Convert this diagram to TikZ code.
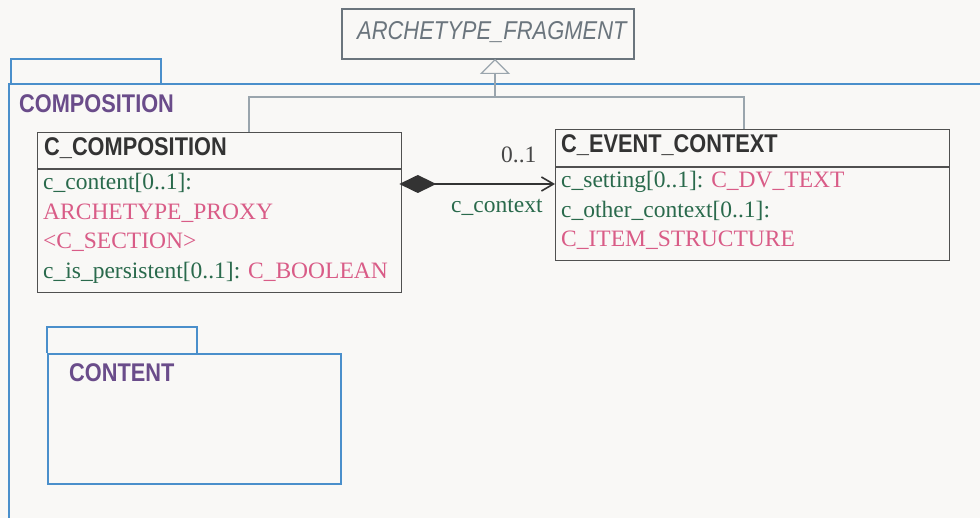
\documentclass[tikz,border=0pt]{standalone}
\usepackage{fontspec}
\setmainfont{Liberation Serif}
\newfontfamily\condfont[FakeStretch=0.85]{Liberation Sans}
\usetikzlibrary{arrows.meta}
\definecolor{bg}{HTML}{F9F8F6}
\definecolor{pkgblue}{HTML}{4A8FCB}
\definecolor{pkgpurple}{HTML}{6A4C8A}
\definecolor{attrgreen}{HTML}{2A6A4C}
\definecolor{typepink}{HTML}{D95C87}
\definecolor{titledark}{HTML}{333333}
\definecolor{boxgray}{HTML}{505050}
\definecolor{archgray}{HTML}{6B757D}
\definecolor{genline}{HTML}{9AA5AD}
\newcommand\sansT{\condfont\bfseries\fontsize{25.6}{30}\selectfont}
\newcommand\serifT{\fontsize{23.5}{28}\selectfont}
\begin{document}
\begin{tikzpicture}[x=1pt,y=-1pt,
  txt/.style={anchor=base west, inner sep=0pt, font=\serifT},
  ttl/.style={anchor=base west, inner sep=0pt, font=\sansT, text=titledark},
  pkgttl/.style={anchor=base west, inner sep=0pt, font=\sansT, text=pkgpurple},
  classbox/.style={draw=boxgray, line width=1.3pt, anchor=north west, inner sep=0pt},
  pkg/.style={draw=pkgblue, line width=2pt},
  gen/.style={draw=genline, line width=1.6pt},
  attr/.style={text=attrgreen},
  tytxt/.style={text=typepink}]
\fill[bg] (0,0) rectangle (980,518);
\useasboundingbox (0,0) rectangle (980,518);

% COMPOSITION package
\draw[pkg] (11,84) -- (11,59) -- (161,59) -- (161,84);
\draw[pkg] (982,84) -- (9,84) -- (9,522);
\node[pkgttl] (pcomp) at (19,113) {COMPOSITION};

% CONTENT package
\draw[pkg] (47,353) -- (47,327) -- (197,327) -- (197,353);
\node[pkg, anchor=north west, inner sep=0pt, minimum width=293pt, minimum height=130pt] (pcont) at (47,353) {};
\node[pkgttl] (pconttl) at (69,382) {CONTENT};

% ARCHETYPE_FRAGMENT
\node[draw=archgray, line width=1.8pt, anchor=north west, inner sep=0pt, minimum width=292pt, minimum height=50pt] (arch) at (341,8) {};
\node[anchor=base west, inner sep=0pt, text=archgray, font=\condfont\itshape\fontsize{25.8}{30}\selectfont] (archt) at (357,40) {ARCHETYPE\_FRAGMENT};

% C_COMPOSITION
\node[classbox, minimum width=364pt, minimum height=160pt] (ccomp) at (37,132) {};
\draw[boxgray, line width=1.3pt] (ccomp.west |- 0,169) -- (ccomp.east |- 0,169);
\node[ttl] (ccompt) at (44,156) {C\_COMPOSITION};
\node[txt, attr] (a1) at (43,190) {c\_content[0..1]:};
\node[txt, tytxt] (a2) at (43,220) {ARCHETYPE\_PROXY};
\node[txt, tytxt] (a3) at (43,249) {<C\_SECTION>};
\node[txt] (a4) at (43,279) {\textcolor{attrgreen}{c\_is\_persistent[0..1]:} \textcolor{typepink}{C\_BOOLEAN}};

% C_EVENT_CONTEXT
\node[classbox, minimum width=394pt, minimum height=131pt] (cevent) at (555,129) {};
\draw[boxgray, line width=1.3pt] (cevent.west |- 0,167) -- (cevent.east |- 0,167);
\node[ttl] (ceventt) at (561,153) {C\_EVENT\_CONTEXT};
\node[txt] (b1) at (561,188) {\textcolor{attrgreen}{c\_setting[0..1]:} \textcolor{typepink}{C\_DV\_TEXT}};
\node[txt, attr] (b2) at (561,218) {c\_other\_context[0..1]:};
\node[txt, tytxt] (b3) at (561,247) {C\_ITEM\_STRUCTURE};

% generalization
\coordinate (g1) at (249,97);
\coordinate (gj) at (495,97);
\coordinate (g2) at (744,97);
\coordinate (gtip) at (495,59);
\draw[gen] (ccomp.north -| g1) -- (g1) -- (g2) -- (cevent.north -| g2);
\draw[gen, -{Triangle[open, length=15pt, width=30pt, line width=1.2pt]}] (gj) -- (gtip);

% composition association
\coordinate (ar) at (0,184);
\draw[titledark, line width=2pt, {Diamond[length=37pt, width=18pt]}-{Straight Barb[length=12pt, width=14pt, line width=1.6pt]}, shorten <=-3pt] (ccomp.east |- ar) -- (cevent.west |- ar);
\node[txt, text=titledark!90] (m1) at (501,163) {0..1};
\node[txt, attr] (r1) at (451,213) {c\_context};
\end{tikzpicture}
\end{document}
